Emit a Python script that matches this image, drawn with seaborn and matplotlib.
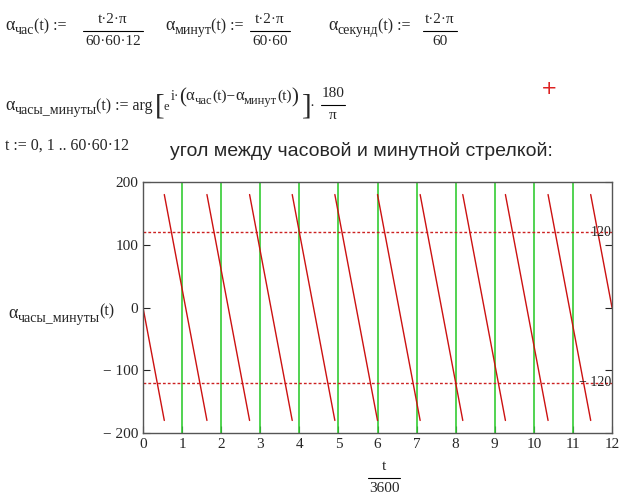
import matplotlib
matplotlib.use("Agg")
import matplotlib.pyplot as plt
import seaborn as sns

sns.set_style("white")
plt.rcParams['font.family'] = ['Liberation Serif', 'DejaVu Serif']

# sawtooth segments of the hour/minute angle (hours, degrees)
seg_start_h = [0, 0.545, 1.636, 2.727, 3.818, 4.909, 6.0, 7.091, 8.182, 9.273, 10.364, 11.455]
seg_end_h = [0.545, 1.636, 2.727, 3.818, 4.909, 6.0, 7.091, 8.182, 9.273, 10.364, 11.455, 12]
seg_start_deg = [0, 180, 180, 180, 180, 180, 180, 180, 180, 180, 180, 180]
seg_end_deg = [-180, -180, -180, -180, -180, -180, -180, -180, -180, -180, -180, 0]
hour_marks = [1, 2, 3, 4, 5, 6, 7, 8, 9, 10, 11]
ref_levels = [120, -120]
ref_labels = ["120", "− 120"]

W, H = 640, 494
fig = plt.figure(figsize=(6.4, 4.94), dpi=100)
ax = fig.add_axes([143 / W, 1 - 433 / H, (612 - 143) / W, (433 - 182) / H])

for x in hour_marks:
    ax.axvline(x, color="#33cc33", lw=1.2)
for lvl in ref_levels:
    ax.axhline(lvl, color="#cc2222", lw=1, ls=(0, (2, 1.5)))
for x0, x1, y0, y1 in zip(seg_start_h, seg_end_h, seg_start_deg, seg_end_deg):
    sns.lineplot(x=[x0, x1], y=[y0, y1], ax=ax, color="#cc1111", lw=1)
for lvl, lab in zip(ref_levels, ref_labels):
    ax.text(11.98, lvl, lab, ha="right", va="center", fontsize=10, color="#222222")

ax.set_xlim(0, 12)
ax.set_ylim(-200, 200)
ax.set_xticks(range(0, 13))
ax.set_yticks([-200, -100, 0, 100, 200])
ax.set_yticklabels(["− 200", "− 100", "0", "100", "200"])
ax.tick_params(direction="in", length=5, labelsize=11, right=True, bottom=True, left=True)
ax.tick_params(axis="y", which="both", labelright=False)
for s in ax.spines.values():
    s.set_color("#555555")
    s.set_linewidth(1)
ax.set_xlabel("")
ax.set_ylabel("")

fig.canvas.draw()
rend = fig.canvas.get_renderer()


def px(x, y):
    return x / W, 1 - y / H


def run(x, y, pieces, **kw):
    # pieces: (text, fontsize, dy)
    cur = x
    for txt, fs, dy in pieces:
        t = fig.text(*px(cur, y + dy), txt, fontsize=fs, va="baseline", ha="left", **kw)
        bb = t.get_window_extent(rend)
        cur += bb.width
    return cur


def frac(cx, y_line, num, den, fs=11, width=None):
    tn = fig.text(*px(cx, y_line - 5), num, fontsize=fs, ha="center", va="bottom")
    td = fig.text(*px(cx, y_line + 4), den, fontsize=fs, ha="center", va="top")
    w = width or max(tn.get_window_extent(rend).width, td.get_window_extent(rend).width) + 4
    fig.add_artist(plt.Line2D([(cx - w / 2) / W, (cx + w / 2) / W], [1 - y_line / H] * 2,
                              color="black", lw=0.8))


# row 1
run(5, 30, [("α", 13, 0), ("час", 10, 4), ("(t) :=", 11.5, 0)])
frac(113, 31, "t·2·π", "60·60·12")
run(165, 30, [("α", 13, 0), ("минут", 10, 4), ("(t) :=", 11.5, 0)])
frac(270, 31, "t·2·π", "60·60")
run(328, 30, [("α", 13, 0), ("секунд", 10, 4), ("(t) :=", 11.5, 0)])
frac(440, 31, "t·2·π", "60")

# row 2
end = run(5, 110, [("α", 13, 0), ("часы_минуты", 10, 4), ("(t) := arg", 11.5, 0)])
fig.text(*px(end + 2, 113), "[", fontsize=21, va="baseline")
end = run(end + 11, 110, [("e", 9, 0)])
end = run(end + 1, 100, [("i·", 10, 0), ("(", 15, 2), ("α", 12, 0), ("час", 9, 4), ("(t)−", 11, 0),
                         ("α", 12, 0), ("минут", 9, 4), ("(t)", 11, 0), (")", 15, 2)])
fig.text(*px(end + 3, 113), "]", fontsize=21, va="baseline")
fig.text(*px(end + 11, 110), "·", fontsize=11, va="baseline")
frac(end + 34, 105, "180", "π", width=24)
fig.text(*px(549, 89), "+", fontsize=14, color="#dd2222", ha="center", va="center",
         family="DejaVu Sans")

# row 3
run(5, 150, [("t := 0, 1 .. 60·60·12", 11.5, 0)])
fig.text(*px(170, 156), "угол между часовой и минутной стрелкой:", fontsize=14,
         family=["Liberation Sans", "DejaVu Sans"], va="baseline")

# axis labels
run(8, 318, [("α", 13, 0), ("часы_минуты", 10, 4), ("(t)", 11.5, -3)])
frac(384, 478, "t", "3600", width=32)

fig.savefig("out.png", dpi=100)
